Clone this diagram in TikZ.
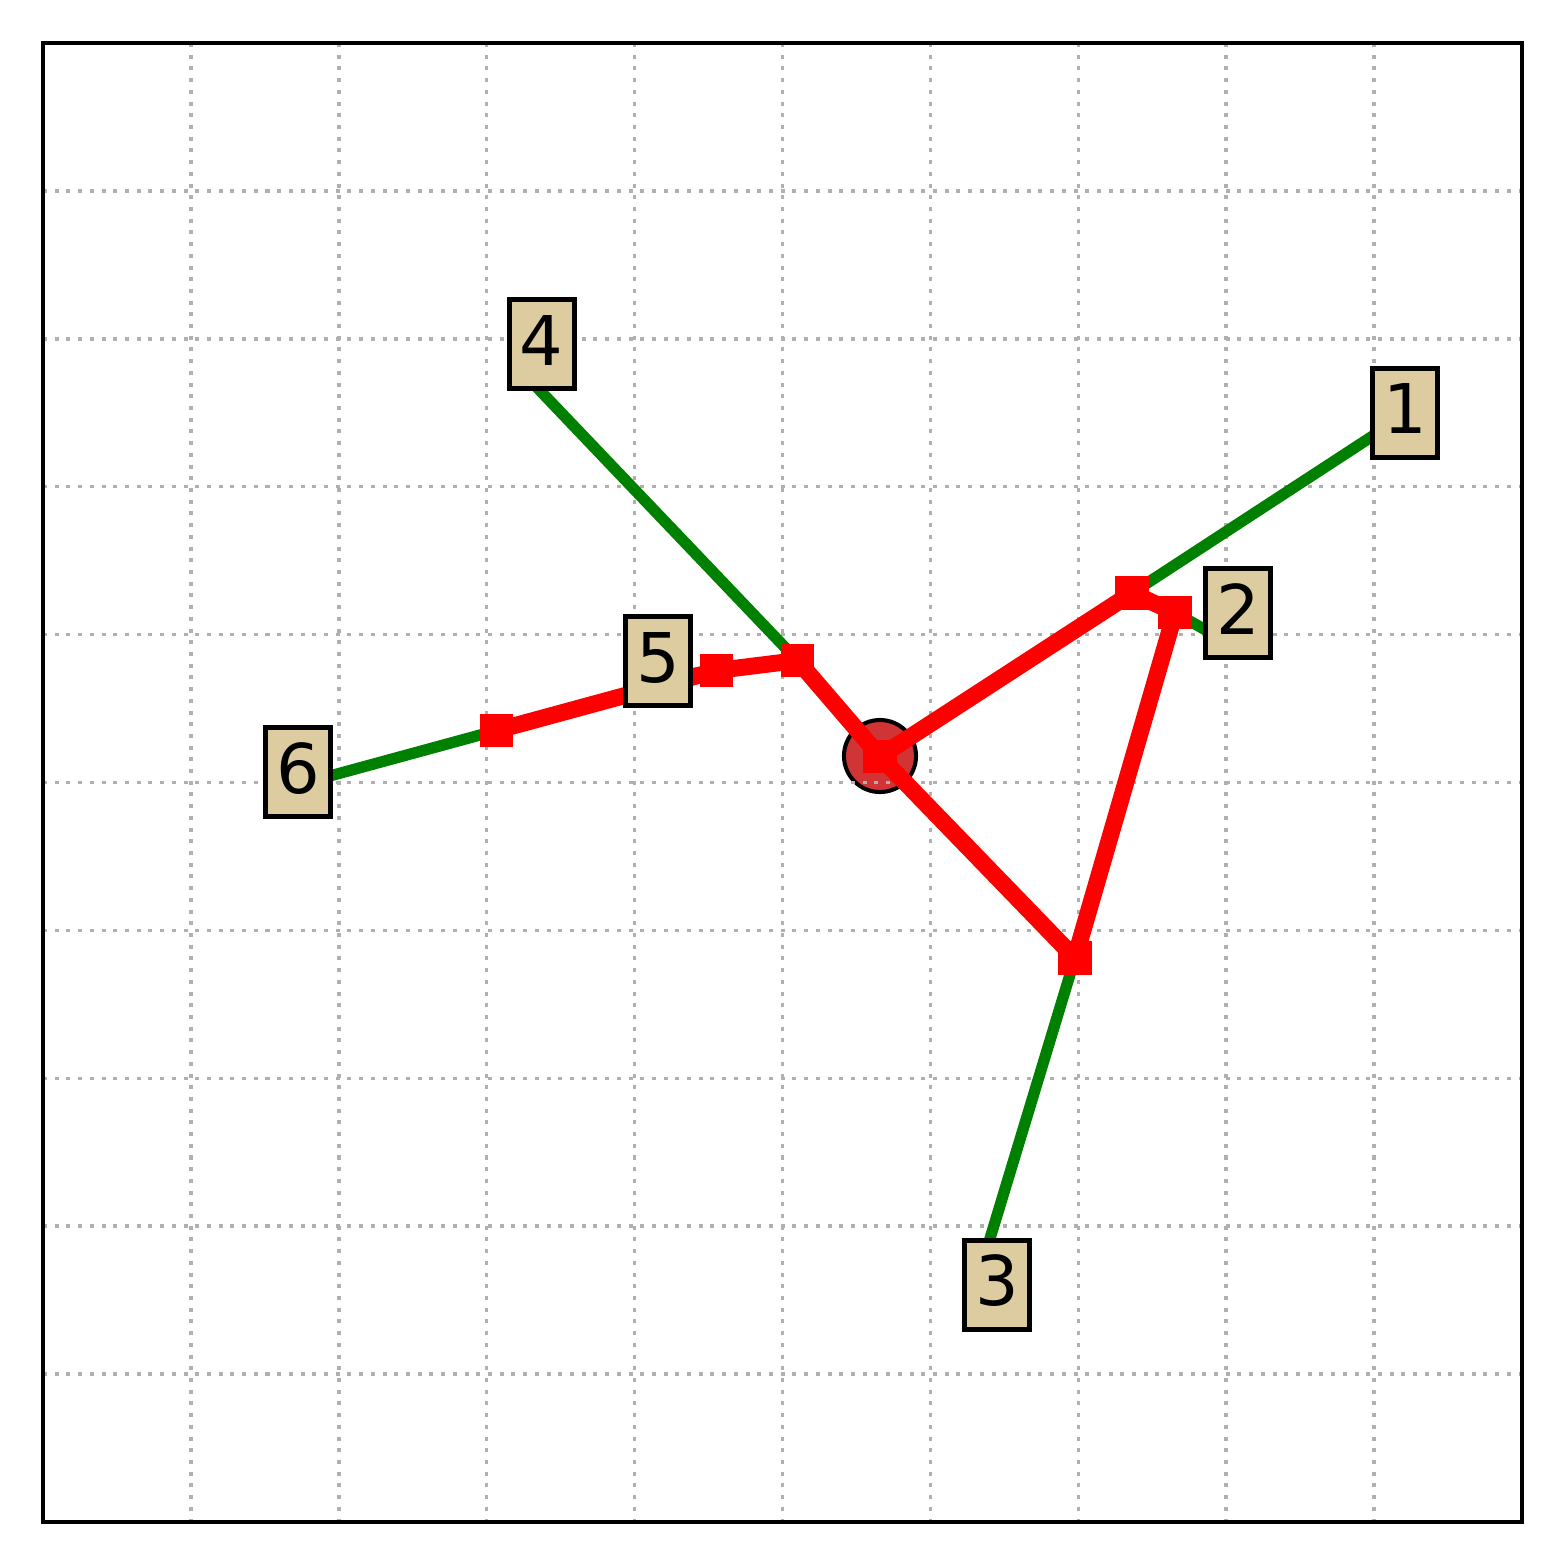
\documentclass[tikz,border=0pt]{standalone}
\usepackage{fontspec}
\setmainfont{DejaVu Sans}
\definecolor{boxfill}{RGB}{220,204,160}
\definecolor{gridgray}{RGB}{176,176,176}
\definecolor{hubred}{RGB}{208,52,52}
\definecolor{mplgreen}{RGB}{0,128,0}
\begin{document}
\begin{tikzpicture}[x=0.01cm,y=-0.01cm,
  termbox/.style={draw=black,line width=1.42pt,fill=boxfill,inner sep=0pt,
    minimum width=18.5pt,minimum height=25.3pt,text height=14.22pt,text depth=2.26pt,
    font=\fontsize{19.5}{23}\selectfont},
  steiner/.style={fill=red,draw=none,inner sep=0pt,minimum size=9.4pt,rectangle},
  hub/.style={circle,fill=hubred,draw=black,line width=1.14pt,inner sep=0pt,minimum size=20.5pt},
  gridline/.style={gridgray,line width=1.0pt,dash pattern=on 1.14pt off 2.19pt},
  greenline/.style={mplgreen,line width=3.2pt},
  redline/.style={red,line width=4.8pt,line join=round}]
\useasboundingbox (0,0) rectangle (1565,1565);
% hub circle (below grid)
\node[hub] (hc) at (880,756) {};
% grid
\foreach \k in {1,...,9}{
  \draw[gridline] ({43+147.9*\k},43) -- ({43+147.9*\k},1522);
  \draw[gridline] (43,{43+147.9*\k}) -- (1522,{43+147.9*\k});
}
% terminal data points (hidden under the label boxes)
\coordinate (p1) at (1378,432.5);
\coordinate (p2) at (1211,633);
\coordinate (p3) at (970,1304.5);
\coordinate (p4) at (514.7,364);
\coordinate (p5) at (631,681);
\coordinate (p6) at (271,792);
% steiner points
\coordinate (q1) at (1132,593);
\coordinate (q2) at (1175,612.7);
\coordinate (q3) at (1075,958);
\coordinate (q4) at (797.5,660.5);
\coordinate (q5) at (716.7,670.5);
\coordinate (q6) at (496.5,730.5);
\coordinate (qc) at (880,756.5);
% green connectors
\foreach \i in {1,...,6}{ \draw[greenline] (p\i) -- (q\i); }
% red tree
\draw[redline] (qc) -- (q1) -- (q2) -- (q3) -- cycle;
\draw[redline] (qc) -- (q4) -- (q5) -- (q6);
% markers
\foreach \i in {1,...,6}{ \node[steiner] (s\i) at (q\i) {}; }
\node[steiner] (sc) at (qc) {};
% label boxes
\node[termbox] (t1) at (1405,412.5) {1};
\node[termbox] (t2) at (1238,613) {2};
\node[termbox] (t3) at (997,1284.5) {3};
\node[termbox] (t4) at (541.7,344) {4};
\node[termbox] (t5) at (658,661) {5};
\node[termbox] (t6) at (298,772) {6};
% frame
\draw[black,line width=1.14pt] (43,43) rectangle (1522,1522);
\end{tikzpicture}
\end{document}
